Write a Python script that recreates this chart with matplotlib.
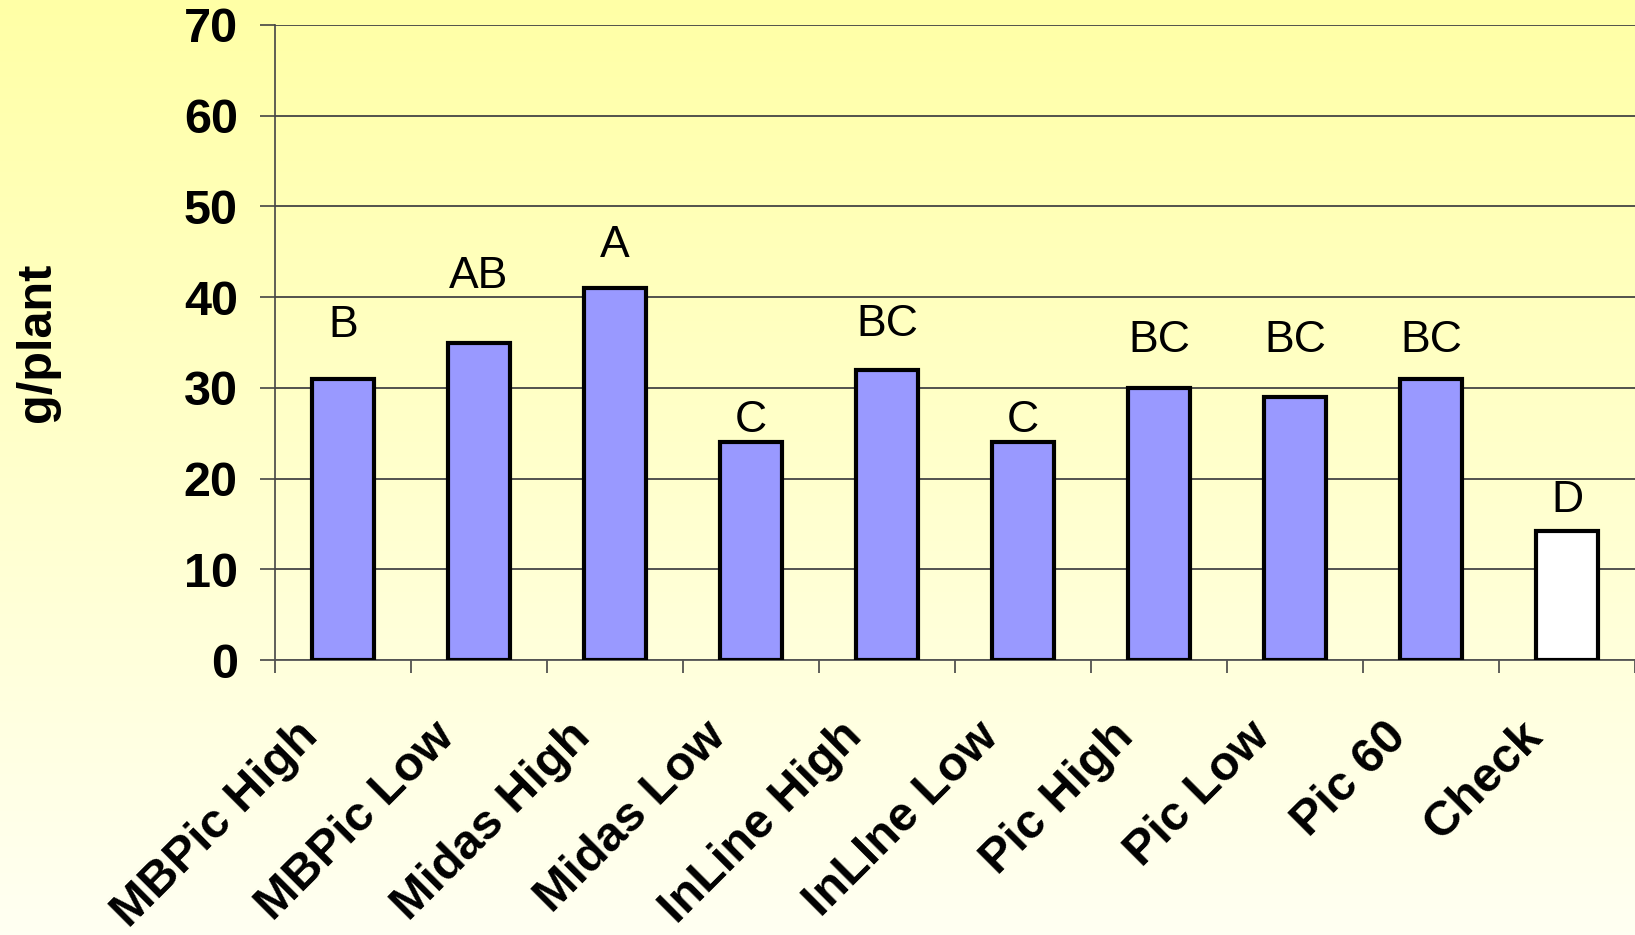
import numpy as np
import matplotlib.pyplot as plt
import matplotlib.transforms as mtransforms
from matplotlib.colors import LinearSegmentedColormap

plt.rcParams["font.family"] = ["Liberation Sans", "DejaVu Sans"]

treatments = ['MBPic High', 'MBPic Low', 'Midas High', 'Midas Low', 'InLine High',
              'InLIne Low', 'Pic High', 'Pic Low', 'Pic 60', 'Check']
weights = [31, 35, 41, 24, 32, 24, 30, 29, 31, 14.2]
letters = ['B', 'AB', 'A', 'C', 'BC', 'C', 'BC', 'BC', 'BC', 'D']
letter_y = [36.9, 42.3, 45.7, 26.4, 37.0, 26.4, 35.2, 35.2, 35.2, 17.6]
bar_colors = ['#9999FF'] * 9 + ['#FFFFFF']


def main():
    fig = plt.figure(figsize=(16.35, 9.35), dpi=100)

    # yellow-to-cream background
    bg = fig.add_axes([0, 0, 1, 1], zorder=-10)
    cmap = LinearSegmentedColormap.from_list('bg', ['#FFFFA6', '#FFFFF2'])
    bg.imshow(np.linspace(0, 1, 256).reshape(-1, 1), cmap=cmap, aspect='auto',
              extent=[0, 1, 0, 1])
    bg.axis('off')

    ax = fig.add_axes([275 / 1635, 1 - 660 / 935, 1360 / 1635, 635 / 935])
    ax.set_facecolor('none')

    x = np.arange(len(treatments))
    ax.bar(x, weights, width=0.46, color=bar_colors, edgecolor='black',
           linewidth=3.0, zorder=3)
    for xi, lab, ly in zip(x, letters, letter_y):
        ax.text(xi, ly, lab, ha='center', va='center', fontsize=32, zorder=4)

    ax.set_xlim(-0.5, len(treatments) - 0.5)
    ax.set_ylim(0, 70)
    ax.set_yticks(range(0, 71, 10))
    ax.yaxis.grid(True, color='#444444', linewidth=1.3, zorder=0)
    ax.tick_params(axis='y', length=15 * 0.72, width=1.2, color='#444444',
                   pad=16, labelsize=35)
    for lab in ax.get_yticklabels():
        lab.set_fontweight('bold')

    ax.set_xticks(x)
    ax.set_xticklabels(treatments, rotation=45, ha='right', va='center',
                       rotation_mode='anchor', fontsize=35, fontweight='bold')
    ax.tick_params(axis='x', which='major', length=0, pad=50)
    shift = mtransforms.ScaledTranslation(-32 / 100, 0, fig.dpi_scale_trans)
    for lab in ax.get_xticklabels():
        lab.set_transform(lab.get_transform() + shift)
    ax.set_xticks(np.arange(-0.5, len(treatments)), minor=True)
    ax.tick_params(axis='x', which='minor', length=13 * 0.72, width=1.2,
                   color='#444444')

    for s in ['top', 'right']:
        ax.spines[s].set_visible(False)
    ax.spines['left'].set_color('#444444')
    ax.spines['left'].set_linewidth(1.2)
    ax.spines['bottom'].set_color('#555555')
    ax.spines['bottom'].set_linewidth(1.3)

    ax.set_ylabel('g/plant', fontsize=35, fontweight='bold')
    ax.yaxis.set_label_coords(-0.158, 0.5)

    fig.savefig('out.png', dpi=100)


if __name__ == "__main__":
    main()
